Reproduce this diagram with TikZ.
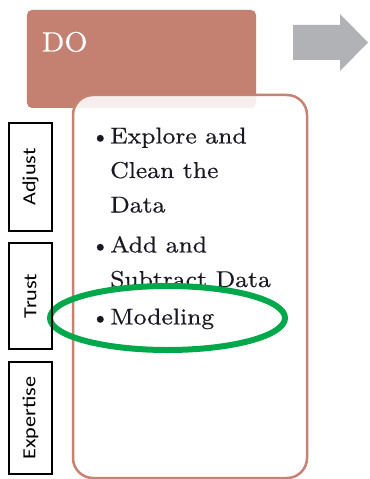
\documentclass[tikz,border=0pt]{standalone}
\usepackage{fontspec}
\newfontfamily\labelfont{Carlito}
\newfontfamily\bodyfont[FakeBold=0.3]{lmroman8-regular.otf}
\usetikzlibrary{shapes.geometric}
\definecolor{doclay}{RGB}{196,128,112}
\definecolor{doedge}{RGB}{198,130,114}
\definecolor{arrowgray}{RGB}{176,178,181}
\definecolor{ringgreen}{RGB}{0,168,76}
\definecolor{inktext}{RGB}{25,25,35}
\newcommand{\wideserif}[1]{\scalebox{1.05}[1]{#1}}
\newcommand{\widesans}[1]{\scalebox{1.2}[1]{#1}}
\tikzset{
  phasebox/.style={draw=none, fill=doclay, rounded corners=5bp, inner sep=0pt},
  bodybox/.style={draw=doedge, line width=2.5bp, fill=white, fill opacity=0.88,
    rounded corners=20bp, inner sep=0pt},
  bodyline/.style={anchor=base west, inner sep=0pt, text=inktext,
    font=\bodyfont\fontsize{23bp}{26bp}\selectfont},
  bulletmark/.style={anchor=base east, inner sep=0pt, text=inktext,
    font=\bodyfont\fontsize{23bp}{26bp}\selectfont},
  sidetag/.style={draw=black, line width=1.3bp, rotate=90, inner sep=0pt,
    minimum height=43bp, font=\labelfont\fontsize{18.5bp}{20bp}\selectfont},
  ring/.style={ellipse, draw=ringgreen, line width=6bp, inner sep=0pt,
    minimum width=235bp, minimum height=64bp}
}
\begin{document}
\begin{tikzpicture}[x=1bp, y=-1bp]
\useasboundingbox (0,0) rectangle (369,479);

% phase header
\node[phasebox, minimum width=229bp, minimum height=98bp] (do) at (141.5,59) {};
\node[anchor=base west, inner sep=0pt, text=white,
  font=\bodyfont\fontsize{28bp}{30bp}\selectfont] (dolabel) at (41.5,51.5) {DO};

% next-phase arrow
\fill[arrowgray] (293,25) -- (340,25) -- (340,14) -- (368,42.5) -- (340,71)
  -- (340,60) -- (293,60) -- cycle;

% content panel
\node[bodybox, minimum width=234bp, minimum height=383bp] (body) at (190,286.5) {};

% bullet list
\node[bulletmark] (b1) at (110,143.5) {•};
\node[bodyline] (l1) at (110,143.5) {\wideserif{Explore and}};
\node[bodyline] (l2) at (110,178) {\wideserif{Clean the}};
\node[bodyline] (l3) at (110,212.5) {\wideserif{Data}};
\node[bulletmark] (b2) at (110,252.5) {•};
\node[bodyline] (l4) at (110,252.5) {\wideserif{Add and}};
\node[bodyline] (l5) at (110,287) {\wideserif{Subtract Data}};
\node[bulletmark] (b3) at (110,324.5) {•};
\node[bodyline] (l6) at (110,324.5) {\wideserif{Modeling}};

% highlight ring
\node[ring] (hl) at (167.5,318) {};

% side tags
\node[sidetag, minimum width=108bp] (adjust) at (30.5,177) {\widesans{Adjust}};
\node[sidetag, minimum width=106bp] (trust) at (30.5,296) {\widesans{Trust}};
\node[sidetag, minimum width=112bp] (expertise) at (30.5,418) {\widesans{Expertise}};
\end{tikzpicture}
\end{document}
